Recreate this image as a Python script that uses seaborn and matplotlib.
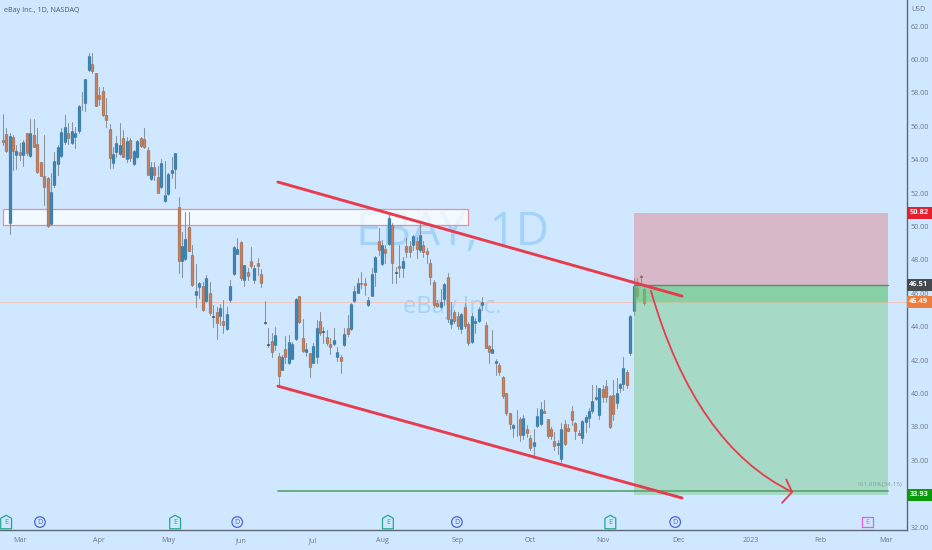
import matplotlib
matplotlib.use('Agg')
import matplotlib.pyplot as plt
from matplotlib.markers import MarkerStyle
from matplotlib.patches import PathPatch, Rectangle
from matplotlib.path import Path
from matplotlib.patheffects import withStroke
from matplotlib.transforms import blended_transform_factory
import pandas as pd
import seaborn as sns

######
# Data
######
opens = [55.18, 55.52, 50.18, 55.34, 54.28, 54.48, 54.28, 55.58, 54.24, 55.48,
         54.94, 53.88, 53.02, 52.88, 50.12, 52.46, 53.74, 54.24, 55.04, 55.58,
         54.98, 55.38, 55.72, 57.42, 57.42, 59.34, 59.74, 59.18, 57.88, 58.10,
         56.66, 55.82, 53.82, 54.44, 54.34, 55.32, 54.02, 55.18, 53.74, 54.14,
         55.30, 55.22, 54.56, 52.86, 53.54, 52.98, 52.38, 51.50, 51.94, 53.22,
         53.44,
         51.16, 47.94, 48.04, 49.96, 48.28, 45.90, 46.40, 46.44, 45.56, 46.04,
         44.64, 44.90, 44.64, 44.36, 43.84, 45.60, 47.16, 48.36, 49.04, 46.80,
         47.28, 47.96, 46.80, 47.80, 47.14, 44.28, 42.94, 43.16, 42.90, 42.24,
         41.40, 42.66, 41.80, 42.08, 43.26, 45.84, 43.34, 42.50, 42.40, 41.84,
         42.20, 44.36, 43.68, 43.36, 42.96, 42.96, 42.16, 42.16, 42.90, 43.92,
         43.84, 45.54, 46.04, 46.64, 46.64, 45.30, 45.84, 47.30, 49.10, 47.76,
         48.66, 48.94, 50.10,
         47.30, 47.64, 47.50, 48.80, 48.80, 48.90, 49.14, 48.60, 48.86, 48.54,
         47.84, 46.66, 45.40, 45.16, 45.64, 47.00, 44.16, 44.86, 44.66, 43.88,
         45.16, 44.16, 43.10, 44.20, 44.32, 45.30, 44.10, 42.86, 42.44, 41.80,
         41.72, 41.00, 40.00, 38.80, 37.96, 38.08, 38.50, 37.54, 37.90, 37.36,
         36.84, 38.04, 38.16, 38.92, 38.46, 37.86, 37.14, 36.90, 36.10, 38.20,
         37.94, 38.96, 38.24, 37.66, 37.34, 38.30, 38.56, 38.92, 39.64, 38.70,
         40.26, 40.44, 39.84, 39.90, 39.40, 40.30, 40.54, 41.26, 42.44, 44.96,
         46.30, 47.04, 46.24]
closes = [55.08, 54.54, 55.42, 54.54, 54.54, 54.28, 55.06, 54.38, 55.62, 54.78,
          53.26, 53.04, 52.34, 50.02, 52.04, 53.92, 54.78, 55.64, 55.98, 55.28,
          55.72, 55.58, 57.22, 57.38, 58.80, 60.22, 59.32, 57.22, 57.64, 56.68,
          56.38, 54.08, 54.34, 55.02, 54.88, 54.18, 55.10, 54.08, 54.50, 55.14,
          54.82, 54.74, 53.10, 53.58, 53.08, 52.02, 53.78, 51.86, 53.14, 53.38,
          54.40,
          47.96, 48.80, 49.24, 48.56, 46.50, 46.14, 46.60, 45.00, 46.90, 44.84,
          44.60, 44.24, 45.14, 44.10, 44.76, 46.44, 48.76, 48.64, 46.90, 47.70,
          47.04, 47.64, 47.50, 47.64, 46.60, 44.22, 42.88, 42.50, 43.50, 41.04,
          42.16, 42.20, 43.10, 42.96, 45.68, 44.30, 42.56, 42.64, 41.60, 42.86,
          43.90, 43.64, 43.76, 43.04, 42.76, 43.20, 42.46, 41.96, 43.54, 43.54,
          45.36, 46.16, 46.60, 46.54, 46.50, 45.60, 47.16, 48.16, 48.60, 48.90,
          48.40, 50.50, 47.80,
          47.24, 47.54, 47.96, 48.46, 48.50, 49.40, 48.66, 49.48, 48.50, 48.36,
          47.00, 45.30, 45.24, 45.48, 46.56, 44.44, 44.44, 44.36, 44.04, 44.74,
          44.04, 43.00, 44.66, 44.34, 45.08, 45.50, 42.74, 42.46, 42.64, 41.96,
          41.26, 39.84, 38.80, 38.20, 38.14, 38.04, 37.50, 38.56, 37.64, 36.74,
          37.12, 38.64, 39.06, 38.80, 37.44, 37.46, 36.86, 37.06, 37.90, 37.00,
          37.76, 38.40, 37.76, 37.54, 38.36, 38.60, 38.92, 39.54, 39.80, 40.30,
          39.76, 39.76, 38.00, 38.76, 40.04, 40.54, 41.54, 40.50, 44.66, 46.46,
          45.84, 46.96, 45.44]
highs = [56.74, 55.88, 55.58, 55.48, 54.88, 55.02, 55.18, 55.62, 56.42, 56.46,
         55.88, 53.88, 55.48, 52.94, 53.18, 54.48, 54.88, 55.88, 56.68, 56.22,
         56.28, 55.94, 57.28, 58.08, 58.82, 60.38, 60.38, 59.18, 58.38, 58.34,
         57.68, 56.14, 54.78, 55.42, 56.18, 55.78, 55.38, 55.28, 54.58, 55.18,
         55.38, 55.88, 54.78, 53.88, 53.88, 53.62, 54.02, 53.94, 53.18, 54.18,
         54.42,
         51.78, 49.64, 50.86, 50.86, 48.90, 47.76, 46.70, 46.70, 47.10, 46.70,
         45.30, 45.20, 45.36, 45.60, 45.16, 46.80, 48.80, 49.30, 49.10, 47.70,
         47.50, 48.76, 47.70, 48.10, 47.44, 45.56, 43.90, 43.64, 44.00, 42.44,
         42.30, 43.44, 43.50, 43.10, 45.70, 45.86, 44.44, 43.00, 42.44, 43.00,
         44.40, 44.90, 44.00, 43.80, 43.30, 43.90, 42.80, 42.30, 43.90, 44.70,
         45.40, 46.44, 46.90, 47.30, 46.90, 45.80, 47.50, 48.24, 49.90, 49.20,
         48.90, 50.80, 50.20,
         47.60, 48.90, 48.20, 49.30, 49.10, 49.50, 49.36, 50.20, 49.10, 48.70,
         48.04, 46.80, 45.60, 46.24, 46.64, 47.20, 45.50, 45.00, 44.90, 44.80,
         45.40, 44.30, 44.80, 44.50, 45.16, 45.80, 44.30, 42.90, 43.80, 42.04,
         41.80, 41.04, 40.04, 38.84, 38.20, 39.00, 38.60, 38.70, 38.10, 37.50,
         37.90, 39.10, 39.50, 39.60, 38.50, 38.00, 37.70, 37.20, 38.24, 38.40,
         38.20, 39.24, 38.30, 37.80, 38.40, 38.70, 39.10, 40.50, 40.50, 40.30,
         40.50, 40.80, 39.90, 40.80, 40.90, 40.64, 42.20, 41.40, 44.70, 46.90,
         46.90, 47.10, 46.36]
lows = [54.88, 54.48, 49.52, 53.38, 53.42, 53.98, 53.62, 54.28, 54.18, 54.78,
        53.22, 53.02, 51.28, 49.98, 50.08, 52.38, 53.08, 54.18, 54.94, 54.94,
        54.94, 54.68, 55.62, 56.98, 56.94, 59.32, 59.18, 57.22, 57.28, 56.62,
        55.98, 53.48, 53.48, 54.18, 54.28, 54.14, 53.88, 53.94, 53.68, 54.08,
        54.78, 54.68, 53.08, 52.78, 52.78, 51.98, 52.28, 51.44, 51.88, 52.88,
        52.28,
        47.24, 47.00, 48.00, 48.56, 46.44, 45.16, 45.70, 44.94, 45.50, 44.70,
        44.00, 43.24, 44.10, 43.64, 43.80, 45.50, 47.10, 48.36, 46.80, 46.44,
        46.80, 47.50, 46.60, 47.10, 46.40, 44.16, 42.80, 42.20, 42.60, 40.44,
        41.40, 41.80, 41.76, 42.04, 43.20, 44.24, 42.50, 42.24, 41.00, 41.80,
        41.84, 43.50, 43.00, 42.90, 42.36, 42.90, 41.96, 41.20, 42.84, 43.44,
        43.80, 45.50, 46.00, 46.30, 45.90, 45.24, 45.84, 46.44, 48.30, 47.70,
        47.80, 48.90, 46.60,
        46.64, 47.00, 47.00, 48.16, 48.16, 48.60, 48.10, 48.50, 48.20, 47.80,
        46.56, 45.20, 45.16, 45.10, 45.30, 44.30, 43.90, 44.24, 43.84, 43.64,
        43.90, 42.90, 43.00, 43.60, 44.30, 45.00, 42.70, 41.84, 42.40, 41.10,
        41.10, 39.70, 38.70, 37.90, 37.40, 37.44, 37.16, 37.30, 37.40, 36.64,
        36.16, 38.00, 38.10, 38.80, 37.36, 37.30, 36.64, 36.40, 35.90, 36.90,
        37.76, 38.10, 37.30, 37.50, 37.04, 37.70, 38.00, 38.80, 39.60, 38.50,
        39.50, 39.50, 37.96, 38.40, 39.10, 40.10, 40.20, 40.30, 42.30, 44.70,
        45.70, 46.50, 45.30]

month_ticks = [5, 28, 48, 69, 90, 110, 132, 153, 174, 196, 217, 237, 256]
month_labels = ['Mar', 'Apr', 'May', 'Jun', 'Jul', 'Aug', 'Sep', 'Oct', 'Nov', 'Dec', '2023', 'Feb', 'Mar']
# 34.00 sits behind the 33.93 tag in the original, so it has no label
price_ticks = [32, 36, 38, 40, 42, 44, 46, 48, 50, 52, 54, 56, 58, 60, 62]

# drawings, in bar number / price
upper_channel_x = [79.8, 197.0]
upper_channel_y = [52.66, 45.83]
lower_channel_x = [79.8, 197.0]
lower_channel_y = [40.44, 33.74]
zone_x = [0.1, 134.9]
zone_y = [50.08, 51.03]
position_x = [183.1, 256.8]
stop_price = 50.82
entry_price = 46.51
last_price = 45.49
target_price = 33.93
fib_price = 34.15
arrow_x = [187.9, 200.8, 228.9]
arrow_y = [46.19, 36.9, 34.1]
arrow_head_x = [227.2, 228.9, 226.0]
arrow_head_y = [34.85, 34.1, 33.45]

earnings_x = [1.0, 50.0, 111.7, 176.2]
dividend_x = [10.8, 68.0, 131.7, 195.0]
next_earnings_x = [250.7]
marker_price = 32.3

tag_prices = [50.82, 46.51, 45.49, 33.93]
tag_colors = ['#e5202e', '#444a50', '#ec7d3f', '#0b9a0b']

###########
# Style
###########
BG = '#cfe8ff'
UP = '#3a87ba'
DOWN = '#c9805b'
DOJI = '#3d4650'
RED = '#e63c4e'
TEXT = '#6b7680'

sns.set_theme(style='white', rc={'figure.facecolor': BG, 'axes.facecolor': BG})
plt.rcParams['font.family'] = ['Open Sans', 'DejaVu Sans']

fig = plt.figure(figsize=(9.32, 5.5), dpi=100)
ax = fig.add_axes([0, 1 - 530.4 / 550, 906.6 / 932, 530.4 / 550])

###########
# Watermark
###########
ax.text(130.3, 49.6, 'EBAY, 1D', fontsize=33, color='#a4d3fa', ha='center', va='center', zorder=1)
ax.text(130.3, 45.2, 'eBay Inc.', fontsize=17, color='#a4d3fa', ha='center', va='center', zorder=1)

#########
# Candles
#########
rows = []
for i, (o, h, l, c) in enumerate(zip(opens, highs, lows, closes)):
    kind = 'doji' if abs(o - c) <= 0.1 else ('up' if c > o else 'down')
    rows.append({'bar': i, 'low': l, 'high': h, 'open': o, 'close': c, 'kind': kind})
candles = pd.DataFrame(rows)

wicks = candles.melt(id_vars=['bar', 'kind'], value_vars=['low', 'high'], value_name='price')
bodies = candles.melt(id_vars=['bar', 'kind'], value_vars=['open', 'close'], value_name='price')

sns.lineplot(data=wicks, x='bar', y='price', units='bar', estimator=None, sort=False,
             color='#87939d', linewidth=0.75, ax=ax, zorder=3, legend=False)
sns.lineplot(data=bodies, x='bar', y='price', units='bar', estimator=None, sort=False,
             hue='kind', palette={'up': UP, 'down': DOWN, 'doji': DOJI}, linewidth=1.9,
             solid_capstyle='butt', ax=ax, zorder=4, legend=False,
             path_effects=[withStroke(linewidth=2.3, foreground='#55626e')])

##########
# Drawings
##########
# Supply zone
ax.add_patch(Rectangle((zone_x[0], zone_y[0]), zone_x[1] - zone_x[0], zone_y[1] - zone_y[0],
                       facecolor='white', alpha=0.75, edgecolor='none', zorder=2))
ax.add_patch(Rectangle((zone_x[0], zone_y[0]), zone_x[1] - zone_x[0], zone_y[1] - zone_y[0],
                       facecolor='none', edgecolor='#e58f9f', linewidth=0.9, zorder=2))

# Short position
width = position_x[1] - position_x[0]
ax.add_patch(Rectangle((position_x[0], entry_price), width, stop_price - entry_price,
                       facecolor='#e0767c', alpha=0.42, edgecolor='none', zorder=5))
ax.add_patch(Rectangle((position_x[0], target_price), width, entry_price - target_price,
                       facecolor='#6ec878', alpha=0.42, edgecolor='none', zorder=5))
ax.add_patch(Rectangle((position_x[0], last_price), width, entry_price - last_price,
                       facecolor='#5ac175', alpha=0.4, edgecolor='none', zorder=5))
ax.plot(position_x, [entry_price, entry_price], color='#6f7d78', linewidth=1, zorder=6)

# Last price line
ax.axhline(last_price, color='#efc4bd', linewidth=0.7, zorder=2)

# Channel
sns.lineplot(x=upper_channel_x, y=upper_channel_y, color=RED, linewidth=2.1, ax=ax, zorder=7)
sns.lineplot(x=lower_channel_x, y=lower_channel_y, color=RED, linewidth=2.1, ax=ax, zorder=7)

# Fib level
ax.plot([upper_channel_x[0], position_x[1]], [fib_price, fib_price], color='#5fa873', linewidth=1.3, zorder=6)
ax.text(position_x[1] + 3.9, fib_price + 0.42, '161.80%(34.15)', fontsize=4.6, color='#7ea894',
        ha='right', va='center', zorder=8)

# Target arrow
curve = Path(list(zip(arrow_x, arrow_y)), [Path.MOVETO, Path.CURVE3, Path.CURVE3])
ax.add_patch(PathPatch(curve, facecolor='none', edgecolor=RED, linewidth=1.3, zorder=8))
ax.plot(arrow_head_x, arrow_head_y, color=RED, linewidth=1.3, zorder=8)

##########################
# Earnings/dividend badges
##########################
house = Path([(-0.8, -1), (0.8, -1), (0.8, 0.55), (0, 1), (-0.8, 0.55), (-0.8, -1)], closed=True)
sns.scatterplot(x=earnings_x, y=[marker_price] * len(earnings_x), marker=MarkerStyle(house), s=95,
                facecolor='none', edgecolor='#27a68c', linewidth=0.9, ax=ax, zorder=6)
sns.scatterplot(x=dividend_x, y=[marker_price] * len(dividend_x), marker='o', s=58,
                facecolor='none', edgecolor='#4a62d8', linewidth=0.9, ax=ax, zorder=6)
sns.scatterplot(x=next_earnings_x, y=[marker_price] * len(next_earnings_x), marker='s', s=58,
                facecolor='none', edgecolor='#e25fe0', linewidth=0.9, ax=ax, zorder=6)
for xs, letter, col in [(earnings_x, 'E', '#27a68c'), (dividend_x, 'D', '#4a62d8'), (next_earnings_x, 'E', '#e25fe0')]:
    for x in xs:
        ax.text(x, marker_price, letter, fontsize=5.2, color=col, ha='center', va='center', zorder=7)

######
# Axes
######
ax.set_xlim(-0.78, 262.1)
ax.set_ylim(31.8, 63.56)
ax.set_xlabel('')
ax.set_ylabel('')
ax.set_xticks(month_ticks)
ax.set_xticklabels(month_labels)
ax.yaxis.tick_right()
ax.set_yticks(price_ticks)
ax.set_yticklabels([f'{p:.2f}' for p in price_ticks])
ax.tick_params(axis='both', length=0, labelsize=5.1, labelcolor=TEXT, pad=3)
ax.tick_params(axis='x', pad=5)
for side in ['top', 'left']:
    ax.spines[side].set_visible(False)
for side in ['bottom', 'right']:
    ax.spines[side].set_visible(True)
    ax.spines[side].set_color('#5d6a75')
    ax.spines[side].set_linewidth(1)

fig.text(4 / 932, 1 - 11 / 550, 'eBay Inc., 1D, NASDAQ', fontsize=5.1, color='#4d5964', ha='left', va='center')
fig.text(911 / 932, 1 - 9.5 / 550, 'USD', fontsize=5.1, color=TEXT, ha='left', va='center')

# Price tags
tag_transform = blended_transform_factory(ax.transAxes, ax.transData)
for price, col in zip(tag_prices, tag_colors):
    ax.add_patch(Rectangle((1.0005, price - 0.36), 0.028, 0.72, transform=tag_transform, facecolor=col,
                           edgecolor='none', clip_on=False, zorder=9))
    ax.text(1.0135, price, f'{price:.2f}', transform=tag_transform, fontsize=5.3, fontweight='bold',
            color='white', ha='center', va='center', clip_on=False, zorder=10)

fig.savefig('out.png', dpi=100, facecolor=BG)
